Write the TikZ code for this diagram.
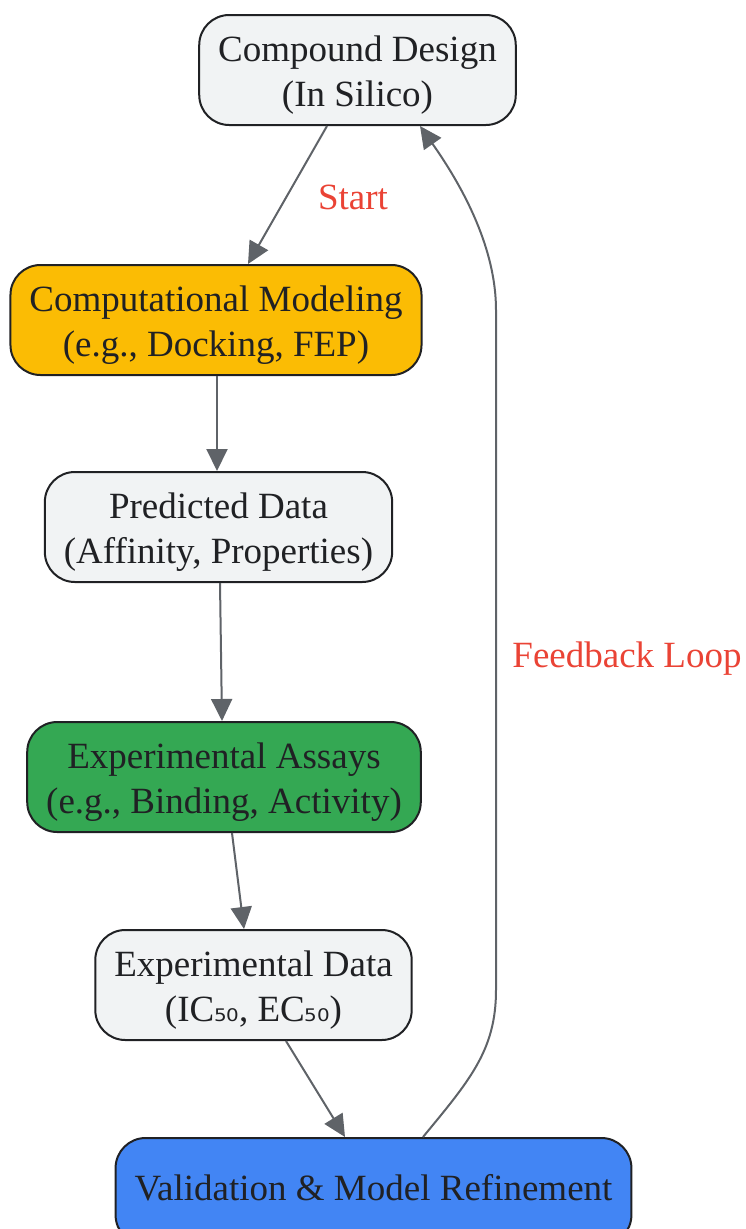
\documentclass[tikz,border=0pt]{standalone}
\usepackage{fontspec}
\setmainfont{Liberation Serif}
\newfontfamily\subfont{DejaVu Sans}
\usetikzlibrary{
    arrows.meta,
    calc
}
\definecolor{boxgray}{HTML}{F1F3F4}
\definecolor{boxline}{HTML}{202124}
\definecolor{boxyellow}{HTML}{FBBC04}
\definecolor{boxgreen}{HTML}{34A853}
\definecolor{boxblue}{HTML}{4285F4}
\definecolor{edgegray}{HTML}{5F6368}
\definecolor{labelred}{HTML}{EA4335}
\tikzset{
    % Boxes
    step box/.style={draw=boxline,line width=2pt,rounded corners=30pt,
        align=center,minimum height=110pt,inner xsep=19pt,
        text=boxline,fill=#1},
    step box/.default=boxgray,
    two lines/.style={text height=80pt,text depth=8pt},
    %
    % Arrows
    arrow tip/.tip={Triangle[length=22pt,width=21pt]},
    arr/.style={-{arrow tip},draw=edgegray,fill=edgegray,line width=2pt},
    %
    % Edge labels
    edge label/.style={text=labelred}
}
\tikzstyle{every node}=[font=\fontsize{37}{45}\selectfont]
\newcommand{\sub}[1]{{\subfont\fontsize{31}{45}\selectfont #1}}

\begin{document}
\begin{tikzpicture}[x=1pt,y=-1pt]
        \useasboundingbox (0,0) rectangle (745,1229);
        \node[step box,two lines] (design) at (357.5,70) {Compound Design\\(In Silico)};
        \node[step box=boxyellow,two lines] (model) at (216,320) {Computational Modeling\\(e.g., Docking, FEP)};
        \node[step box,two lines] (pred) at (218.5,527) {Predicted Data\\(Affinity, Properties)};
        \node[step box=boxgreen,two lines] (assay) at (224,777) {Experimental Assays\\(e.g., Binding, Activity)};
        \node[step box,two lines] (expdata) at (253.5,985) {Experimental Data\\(IC\sub{₅₀}, EC\sub{₅₀})};
        \node[step box=boxblue,minimum height=107pt,text height=26pt,text depth=8pt] (valid) at (373.5,1191.5) {Validation \& Model Refinement};
        %
        \draw[arr] ([xshift=-30.5pt]design.south) -- ([xshift=32pt]model.north);
        \node[edge label] (start) at (353,197) {Start};
        \draw[arr] ([xshift=1pt]model.south) -- ([xshift=-1.5pt]pred.north);
        \draw[arr] ([xshift=1.5pt]pred.south) -- ([xshift=-2pt]assay.north);
        \draw[arr] ([xshift=8pt]assay.south) -- ([xshift=-9.5pt]expdata.north);
        \draw[arr] ([xshift=32.5pt]expdata.south) -- ([xshift=-28.5pt]valid.north);
        % feedback loop
        \draw[arr,fill=none] ([xshift=49.5pt]valid.north) .. controls (470,1080) and (496,1050) .. (496,990)
            -- (496,310) .. controls (496,250) and (465,190) .. ([xshift=62.5pt]design.south);
        \node[edge label] (loop) at (627,659) {Feedback Loop};
    \end{tikzpicture}
\end{document}
